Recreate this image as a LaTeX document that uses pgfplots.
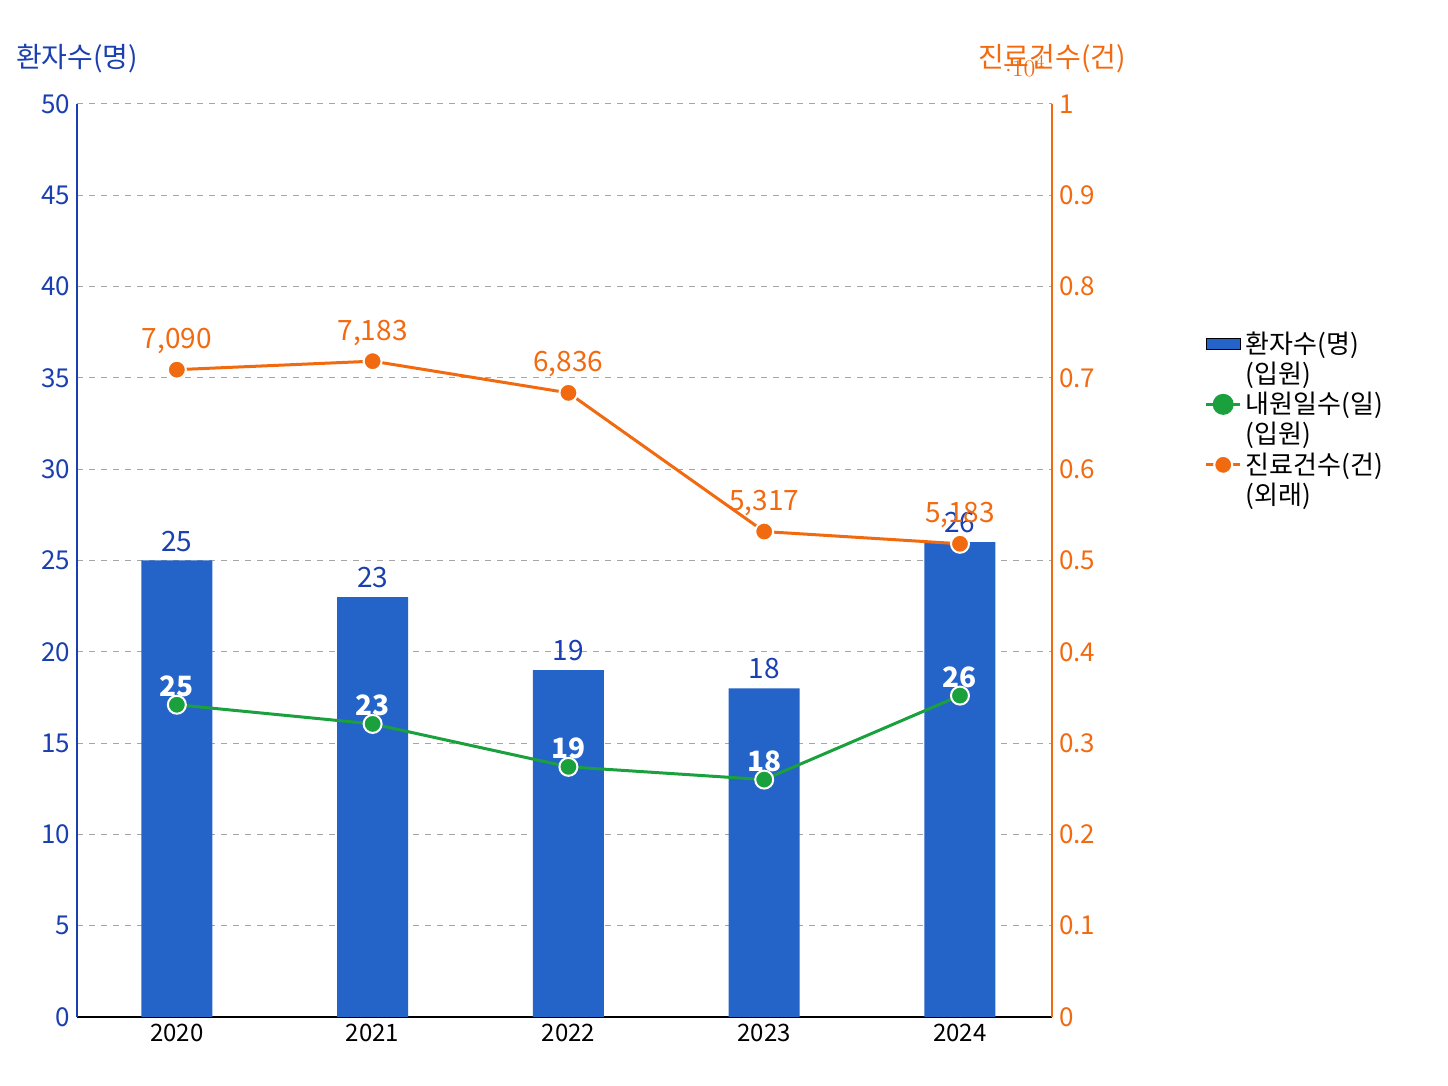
\documentclass[border=0pt]{standalone}
\usepackage{pgfplots}
\pgfplotsset{compat=1.18}
\usepackage{fontspec}
\setmainfont{Noto Sans CJK KR}
\definecolor{barblue}{HTML}{2463C8}
\definecolor{txtblue}{HTML}{1A3FB0}
\definecolor{org}{HTML}{F26A10}
\definecolor{grn}{HTML}{1AA03C}
\begin{document}
\begin{tikzpicture}
\path[use as bounding box] (-38.5pt,-34.5pt) rectangle (685.5pt,508.5pt);
\pgfplotsset{every axis/.style={scale only axis,width=487.5pt,height=456.5pt,xmin=-0.51,xmax=4.47,
  /pgf/number format/assume math mode=true, tick style={draw=none}}}
\begin{axis}[
  ymin=0,ymax=50,ytick={0,5,...,50},
  xtick={0,1,2,3,4},xticklabels={2020,2021,2022,2023,2024},
  axis x line*=bottom, axis y line*=left,
  axis line style={line width=1pt},
  y axis line style={draw=txtblue},
  yticklabel style={text=txtblue,font=\fontsize{13}{15}\selectfont},
  xticklabel style={font=\fontsize{12}{14}\selectfont},
  ymajorgrids, grid style={dashed,gray!70,line width=0.5pt},
  ylabel={환자수(명)}, ylabel style={rotate=-90,at={(rel axis cs:0,1)},anchor=south,yshift=12pt,text=txtblue,font=\fontsize{14}{16}\selectfont},
]
\addplot[ybar,bar width=35.5pt,fill=barblue,draw=none,
  nodes near coords,nodes near coords style={text=txtblue,font=\fontsize{14}{16}\selectfont,yshift=1pt}]
  coordinates {(0,25)(1,23)(2,19)(3,18)(4,26)};
\addplot[grn,line width=1.5pt,mark=*,mark size=4.5pt,mark options={fill=grn,draw=white,line width=1pt},
  nodes near coords, point meta=explicit symbolic,
  nodes near coords style={text=white,font=\bfseries\fontsize{14}{16}\selectfont}]
  coordinates {(0,17.1)[25](1,16.05)[23](2,13.7)[19](3,13.0)[18](4,17.6)[26]};
\end{axis}
\begin{axis}[
  ymin=0,ymax=10000,ytick={0,1000,...,10000},
  axis y line*=right, axis x line=none,
  axis line style={line width=1pt,draw=org},
  /pgf/number format/1000 sep={,},
  yticklabel style={text=org,font=\fontsize{13}{15}\selectfont},
  ylabel={진료건수(건)}, ylabel style={rotate=-90,at={(rel axis cs:1,1)},anchor=south,yshift=12pt,text=org,font=\fontsize{14}{16}\selectfont},
  legend style={at={(rel axis cs:1.15,0.76)},anchor=north west,draw=none,fill=none,
    font=\fontsize{13}{15}\selectfont,row sep=14pt,
    nodes={align=left,text width=70pt}},
  legend cell align=left,
]
\addlegendimage{area legend,fill=barblue,draw=none}
\addlegendentry{환자수(명)\\(입원)}
\addlegendimage{grn,line width=1.5pt,mark=*,mark size=4.5pt,mark options={fill=grn}}
\addlegendentry{내원일수(일)\\(입원)}
\addplot[org,line width=1.5pt,mark=*,mark size=4.5pt,mark options={fill=org,draw=white,line width=1pt},
  nodes near coords,nodes near coords style={text=org,font=\fontsize{14}{16}\selectfont,yshift=4pt}]
  coordinates {(0,7090)(1,7183)(2,6836)(3,5317)(4,5183)};
\addlegendentry{진료건수(건)\\(외래)}
\end{axis}
\end{tikzpicture}
\end{document}
